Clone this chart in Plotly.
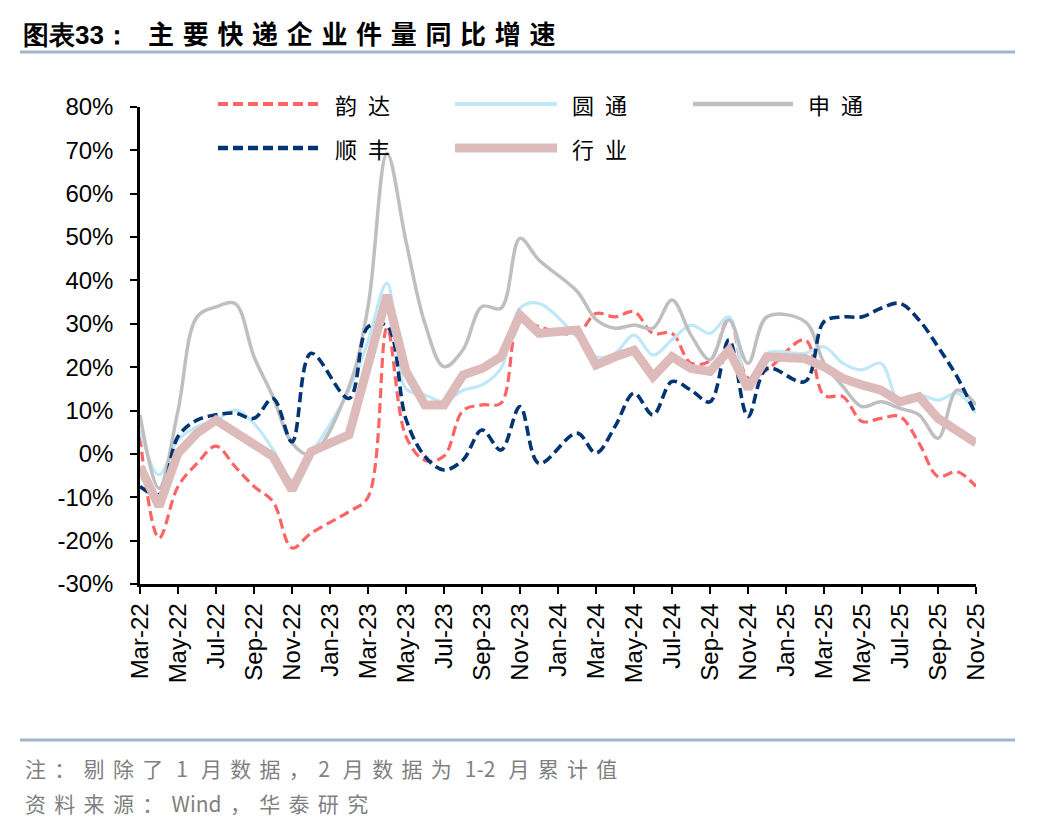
import plotly.graph_objects as go

months = ["Mar-22","Apr-22","May-22","Jun-22","Jul-22","Aug-22","Sep-22","Oct-22","Nov-22","Dec-22",
          "Jan-23","Feb-23","Mar-23","Apr-23","May-23","Jun-23","Jul-23","Aug-23","Sep-23","Oct-23","Nov-23","Dec-23",
          "Jan-24","Feb-24","Mar-24","Apr-24","May-24","Jun-24","Jul-24","Aug-24","Sep-24","Oct-24","Nov-24","Dec-24",
          "Jan-25","Feb-25","Mar-25","Apr-25","May-25","Jun-25","Jul-25","Aug-25","Sep-25","Oct-25","Nov-25"]

tick_labels = ["Mar-22","May-22","Jul-22","Sep-22","Nov-22","Jan-23","Mar-23","May-23","Jul-23","Sep-23","Nov-23",
               "Jan-24","Mar-24","May-24","Jul-24","Sep-24","Nov-24","Jan-25","Mar-25","May-25","Jul-25","Sep-25","Nov-25"]

yunda = [4, -19.4, -7.5, -2.2, 1.8, -2.9, -7.5, -11, -21.7, -18.3,
         None, -13.3, -10, 29, 4, -1.5, -0.5, 10, 11.3, 11.7, 31, 29.3,
         None, 27.8, 32.4, 31.6, 32.8, 27.8, 27.8, 20.9, 21.5, 31.3, 17.5, 19.4,
         None, 26.3, 13.5, 13.2, 7.5, 8.2, 8.6, 2.5, -5.2, -4.1, -7.5]

yuantong = [5.5, -4.8, 3.2, 6.3, 7.8, 10.1, 7, 1, -6, 0,
            None, 14.7, 26, 39.4, 15, 13.6, 12, 14.7, 15.9, 19.7, 33.6, 34.7,
            None, 27, 22.4, 23.2, 27.4, 22.8, 26.3, 29.7, 27.8, 31.6, 15.9, 23.2,
            None, 23.2, 24.7, 20.9, 19.4, 20.9, 11.7, 13.6, 12.4, 14, 9.4]

shentong = [9, -7.9, 10, 31.6, 33.9, 34.7, 22.4, 13.2, 2.5, -0.2,
            None, 15.5, 33.9, 69.3, 49, 30, 20.1, 24, 34, 33.6, 49.7, 44.7,
            None, 37.5, 31, 29, 29.7, 29, 35.5, 27.4, 21.7, 30.9, 20.9, 31.6,
            None, 30.5, 21, 15.5, 10.9, 12, 10.5, 9, 3.6, 14.7, 11.3]

shunfeng = [-7.5, -9.4, 4, 7.8, 9, 9.4, 8.2, 12.8, 2.8, 23.2,
            None, 12.8, 29.3, 29.5, 8, -0.6, -3.7, -1.4, 5.5, 0.9, 10.9, -2.2,
            None, 4.8, 0.2, 6.3, 14, 9, 16.7, 14.7, 12, 26.3, 8.6, 19.7,
            None, 16.7, 30.5, 31.6, 31.6, 33.6, 34.7, 30.9, 24.7, 17.8, 9]

industry = [-2.9, -12.1, 0.2, 4.8, 7.8, 5.1, 2.5, -0.6, -8.3, 0.5,
            None, 4.4, 21, 36.6, 19, 11.3, 11.3, 18.2, 19.7, 22.4, 32, 27.8,
            None, 28.6, 20.5, 22.4, 23.9, 17.8, 22.4, 19.7, 19, 23.9, 15.1, 22.4,
            None, 22, 20.1, 17.4, 15.9, 14.7, 12, 13.2, 8.2, 5.5, 2.5]

y_ticks = [-30, -20, -10, 0, 10, 20, 30, 40, 50, 60, 70, 80]

names = ["韵达", "圆通", "申通", "顺丰", "行业"]
colors = ["#FF6464", "#BFE8F9", "#BFBFBF", "#003473", "#DDBBBA"]
widths = [3.2, 3.2, 3.5, 3.6, 9]
dashes = ["10px,5px", "solid", "solid", "10px,5px", "solid"]
shapes_ = ["spline", "spline", "spline", "spline", "linear"]
series = [yunda, yuantong, shentong, shunfeng, industry]

# The page body has an 8px margin; coordinates below are page pixels.
OFF = 8
W, H = 1048 - OFF, 828 - OFF
L, R, T, B = 140, 976, 107, 584          # plot area in page pixels
def px(x):
    return (x - L) / (R - L)
def py(y):
    return (B - y) / (B - T)

fig = go.Figure()
for n, c, w, d, s, v in zip(names, colors, widths, dashes, shapes_, series):
    fig.add_trace(go.Scatter(x=months, y=v, name=n, mode="lines", connectgaps=True,
                             line=dict(color=c, width=w, dash=d, shape=s, smoothing=1.0),
                             showlegend=False, hoverinfo="skip"))

tickfont = dict(family="Liberation Sans, Arial", size=24, color="black")
fig.update_layout(
    width=W, height=H,
    margin=dict(l=L - OFF, r=W - (R - OFF), t=T - OFF, b=H - (B - OFF), pad=0),
    paper_bgcolor="white", plot_bgcolor="white",
    xaxis=dict(type="category", categoryorder="array", categoryarray=months,
               range=[0, len(months) - 1], tickmode="array", tickvals=tick_labels, ticktext=tick_labels,
               tickangle=-90, ticks="outside", ticklen=7, tickwidth=2, tickcolor="black",
               showline=True, linecolor="black", linewidth=2.5, showgrid=False, zeroline=False,
               tickfont=tickfont),
    yaxis=dict(range=[-30, 80], tickmode="array", tickvals=y_ticks,
               ticktext=[f"{t}%" for t in y_ticks],
               ticks="outside", ticklen=7, tickwidth=2, tickcolor="black", ticklabelstandoff=12,
               showline=True, linecolor="black", linewidth=2.5, showgrid=False, zeroline=False,
               tickfont=tickfont),
)

cjk = "Noto Sans CJK SC"
SP3 = "\u2004"   # three-per-em space
SP2 = "\u2002"   # en space
NSP = "\u2004\u200a"
shapes = []
annotations = []
title_rest = SP3.join("主要快递企业件量同比增速")
annotations.append(dict(x=px(21), y=py(32), xref="paper", yref="paper", xanchor="left", yanchor="middle",
                        showarrow=False,
                        text="<b><span style='font-family:Liberation Sans'>图表33：</span>" + SP2 + "\u2009" + title_rest + "</b>",
                        font=dict(family=cjk, size=26, color="black")))
for yy in (52, 740):
    shapes.append(dict(type="line", xref="paper", yref="paper", x0=px(20), x1=px(1015), y0=py(yy), y1=py(yy),
                       line=dict(color="#A2B5CC", width=3)))
# notes
note1 = NSP.join(["注", "：", "剔", "除", "了", " 1 ", "月", "数", "据", "，", "2 ", "月", "数", "据", "为", " 1-2 ", "月", "累", "计", "值"])
note2 = NSP.join(["资", "料", "来", "源", "：", "Wind", "，", "华", "泰", "研", "究"])
annotations.append(dict(x=px(23), y=py(768), xref="paper", yref="paper", xanchor="left", yanchor="middle",
                        showarrow=False, text=note1,
                        font=dict(family=cjk, size=21, color="#7F7F7F")))
annotations.append(dict(x=px(23), y=py(803), xref="paper", yref="paper", xanchor="left", yanchor="middle",
                        showarrow=False, text=note2,
                        font=dict(family=cjk, size=21, color="#7F7F7F")))

# legend (manual)
legend_pos = [(218, 321, 333, 104), (455, 557, 570, 104), (693, 793, 806, 104),
              (218, 321, 333, 148), (455, 557, 570, 148)]
for (x0, x1, xt, yl), n, c, w, d in zip(legend_pos, names, colors, widths, dashes):
    shapes.append(dict(type="line", xref="paper", yref="paper", x0=px(x0), x1=px(x1), y0=py(yl), y1=py(yl),
                       line=dict(color=c, width=w + (0.8 if w < 5 else 0), dash=d)))
    annotations.append(dict(x=px(xt), y=py(yl), xref="paper", yref="paper", xanchor="left", yanchor="middle",
                            showarrow=False, text=SP2.join(n),
                            font=dict(family=cjk, size=22, color="black")))

fig.update_layout(shapes=shapes, annotations=annotations)
fig.write_html("out.html")
